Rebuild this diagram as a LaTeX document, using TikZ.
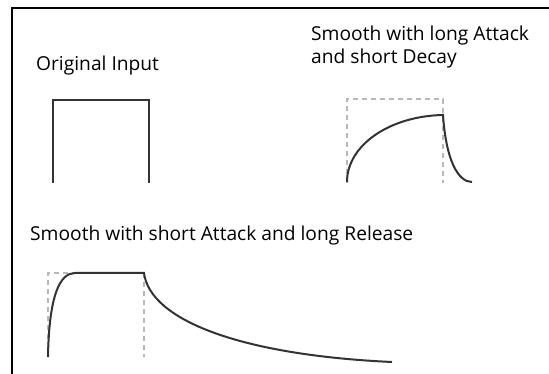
\documentclass[tikz,border=0pt]{standalone}
\usepackage{fontspec}
\setmainfont{Open Sans}
\usetikzlibrary{positioning}

\begin{document}
\begin{tikzpicture}[
    x=1pt, y=-1pt,
    frame/.style={line width=2.5pt, black},
    signal/.style={line width=2pt, draw=black!80, line join=miter},
    guide/.style={line width=1.6pt, draw=black!28, dash pattern=on 5pt off 4pt},
    caption/.style={font=\fontsize{19.2}{22.6}\selectfont, align=left, inner sep=0pt, anchor=base west}
]
\useasboundingbox (0,0) rectangle (549,374);

% Frame (left and top edges only)
\draw[frame] (12,374) -- (12,8) -- (549,8);

% Original input
\node[caption] (orig) at (36,70.7) {Original Input};
\draw[signal] (53,183) -- (53,100) -- (149,100) -- (149,183);

% Long attack, short decay
\node[caption] (ad) at (311,63.3) {Smooth with long Attack\\and short Decay};
\draw[guide] (347,183) -- (347,99) -- (443,99) -- (443,183);
\draw[signal] (347,182) .. controls (347,145) and (390,116) .. (443,115)
    .. controls (446,160) and (458,182) .. (472,182);

% Short attack, long release
\node[caption] (ar) at (30,240.7) {Smooth with short Attack and long Release};
\draw[guide] (48,357) -- (48,273) -- (144,273) -- (144,357);
\draw[signal] (48,357) .. controls (49,295) and (60,273) .. (75,273) -- (144,273)
    .. controls (150,320) and (240,355) .. (392,362);

\end{tikzpicture}
\end{document}
